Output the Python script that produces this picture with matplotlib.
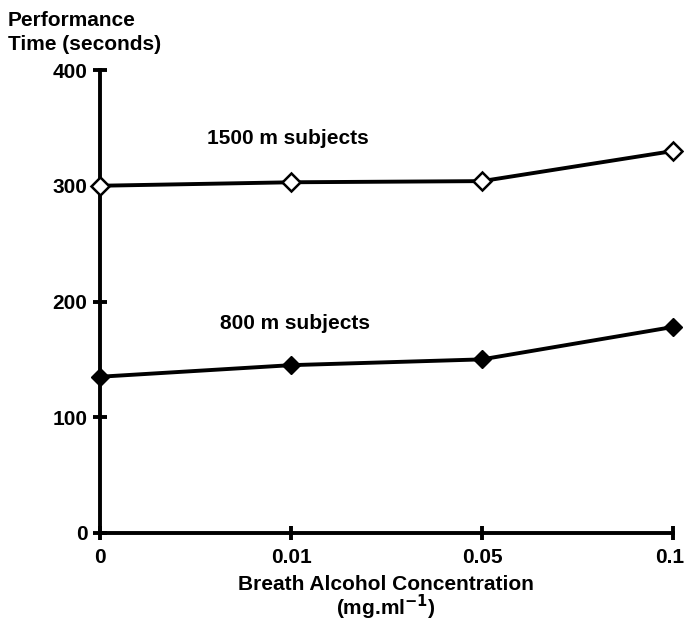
import matplotlib
matplotlib.use("Agg")
import matplotlib.pyplot as plt
import matplotlib.transforms as mtransforms

plt.rcParams['font.family'] = ['Liberation Sans', 'DejaVu Sans']
plt.rcParams['font.weight'] = 'bold'
plt.rcParams['mathtext.default'] = 'bf'

categories = ["0", "0.01", "0.05", "0.1"]
time_1500 = [300, 303, 304, 330]
time_800 = [135, 145, 150, 178]
y_ticks = [0, 100, 200, 300, 400]

FS = 15

fig = plt.figure(figsize=(6.84, 6.26), dpi=100)
ax = fig.add_axes([100/684, (626-533)/626, 573/684, 463/626])

x = list(range(len(categories)))
ax.plot(x, time_1500, color='black', lw=2.8, marker='D', ms=9,
        markerfacecolor='white', markeredgecolor='black', markeredgewidth=1.8,
        clip_on=False, zorder=3)
ax.plot(x, time_800, color='black', lw=2.8, marker='D', ms=9,
        markerfacecolor='black', markeredgecolor='black',
        clip_on=False, zorder=3)

ax.set_xlim(0, len(categories) - 1)
ax.set_ylim(0, 400)
ax.set_xticks(x)
ax.set_xticklabels(categories)
ax.set_yticks(y_ticks)
ax.set_yticklabels([str(v) for v in y_ticks])

for s in ['top', 'right']:
    ax.spines[s].set_visible(False)
for s in ['left', 'bottom']:
    ax.spines[s].set_linewidth(2.8)

ax.tick_params(axis='both', direction='inout', length=10, width=2.8,
               labelsize=FS, colors='black')
ax.tick_params(axis='x', pad=6)
ax.tick_params(axis='y', pad=4)

# keep the last x tick label inside the figure
last = ax.get_xticklabels()[-1]
last.set_transform(last.get_transform() +
                   mtransforms.ScaledTranslation(-3/100, 0, fig.dpi_scale_trans))

ax.text(0.985, 341, "1500 m subjects", ha='center', va='center', fontsize=FS)
ax.text(1.02, 181, "800 m subjects", ha='center', va='center', fontsize=FS)

fig.text(8/684, 1 - 20/626, "Performance", ha='left', va='center', fontsize=FS)
fig.text(8/684, 1 - 44/626, "Time (seconds)", ha='left', va='center', fontsize=FS)

fig.text(386/684, 1 - 584/626, "Breath Alcohol Concentration", ha='center', va='center', fontsize=FS)
fig.text(386/684, 1 - 607/626, "(mg.ml$^{-1}$)", ha='center', va='center', fontsize=FS)

fig.savefig("out.png", dpi=100)
